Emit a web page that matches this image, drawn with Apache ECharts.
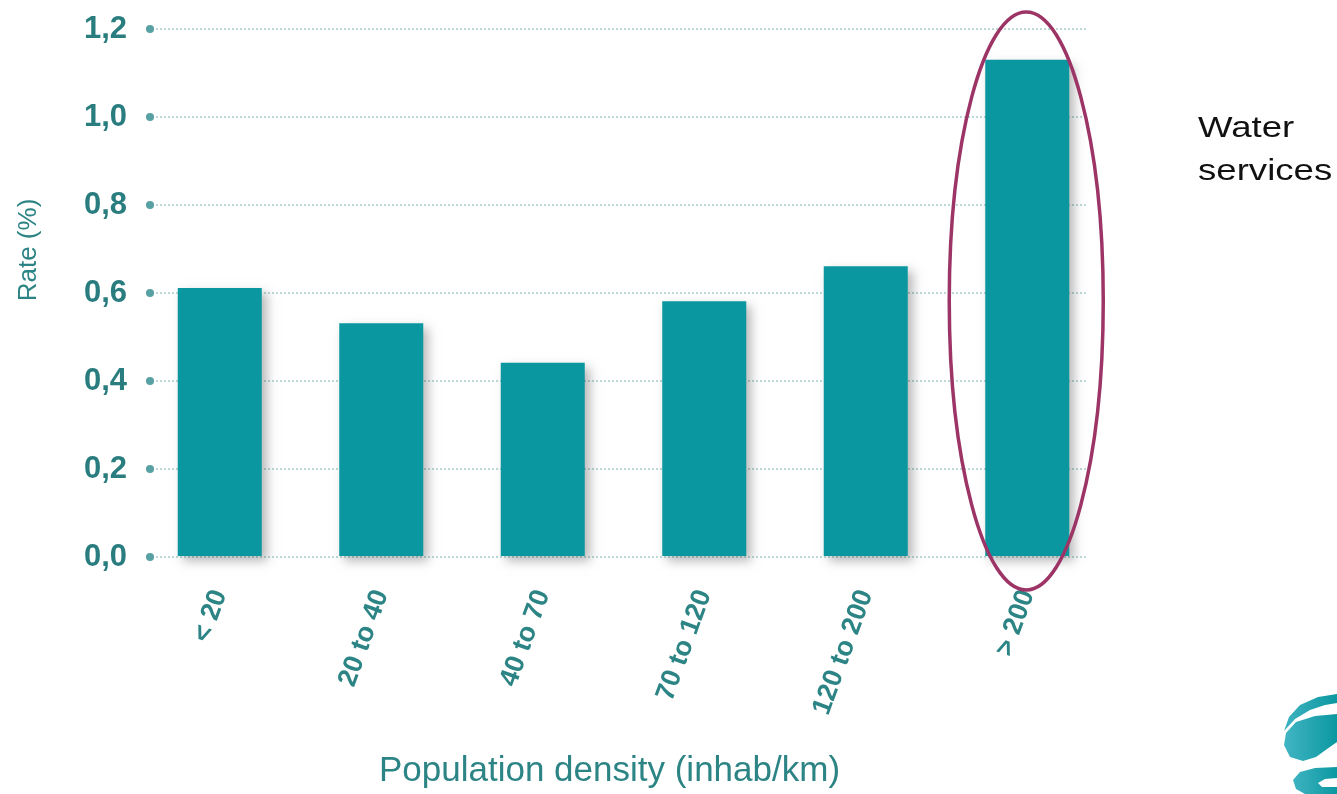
<!DOCTYPE html>
<html>
<head>
<meta charset="utf-8">
<script src="https://cdn.jsdelivr.net/npm/echarts@6/dist/echarts.min.js"></script>
<style>
html,body{margin:0;padding:0;background:#fff;}
#c{width:1337px;height:794px;}
</style>
</head>
<body>
<div id="c"></div>
<script>
// ---- data ----
const categories = ['< 20', '20 to 40', '40 to 70', '70 to 120', '120 to 200', '> 200'];
const rates = [0.61, 0.53, 0.44, 0.58, 0.66, 1.13];
const yTicks = [0, 0.2, 0.4, 0.6, 0.8, 1.0, 1.2];
const xTitle = 'Population density (inhab/km)';
const yTitle = 'Rate (%)';
const noteLines = ['Water', 'services'];

const teal = '#0a97a0';
const textTeal = '#2c8485';
const font = '"Liberation Sans", Arial, sans-serif';

const chart = echarts.init(document.getElementById('c'), null, {renderer: 'canvas'});

const option = {
  backgroundColor: '#ffffff',
  animation: false,
  grid: [
    {left: 139, right: 229, top: 29, bottom: 237},
    {left: 156, right: 249, top: 29, bottom: 237}
  ],
  xAxis: [
    {
      type: 'category', gridIndex: 0, data: categories,
      axisLine: {show: false}, axisTick: {show: false},
      axisLabel: {rotate: 70, margin: 35, color: textTeal, fontFamily: font, fontSize: 27, fontWeight: 'bold', interval: 0},
      name: xTitle, nameLocation: 'middle', nameGap: 198,
      nameTextStyle: {color: textTeal, fontFamily: font, fontSize: 35, padding: [0, 28, 0, 0]}
    },
    {type: 'value', gridIndex: 1, min: 0, max: 1, show: false}
  ],
  yAxis: [
    {type: 'value', gridIndex: 0, min: 0, max: 1.2, interval: 0.2, show: false},
    {
      type: 'value', gridIndex: 1, min: 0, max: 1.2, interval: 0.2,
      axisLine: {show: false}, axisTick: {show: false},
      axisLabel: {
        margin: 29, color: '#2a7d7f', fontFamily: font, fontSize: 31, fontWeight: 'bold',
        formatter: v => v.toFixed(1).replace('.', ',')
      },
      splitLine: {show: true, lineStyle: {color: '#bcd8d9', width: 2, type: [2, 2]}}
    }
  ],
  series: [
    {
      type: 'bar', xAxisIndex: 0, yAxisIndex: 0, data: rates, barWidth: 84,
      itemStyle: {color: teal, shadowBlur: 10, shadowColor: 'rgba(0,0,0,0.28)', shadowOffsetX: 5, shadowOffsetY: 5},
      z: 3
    },
    {
      type: 'scatter', xAxisIndex: 1, yAxisIndex: 1,
      data: yTicks.map(v => [0, v]), symbol: 'circle', symbolSize: 8, symbolOffset: [-6, 0],
      itemStyle: {color: '#2e8a8b'}, clip: false, silent: true
    }
  ]
};
chart.setOption(option);

const cx = chart.convertToPixel({xAxisIndex: 0}, categories[5]);

function grad(c0) {
  return {type: 'linear', x: 0, y: 0, x2: 1, y2: 0, colorStops: [{offset: 0, color: c0}, {offset: 1, color: '#0b98a0'}]};
}

chart.setOption({
  graphic: [
    {
      type: 'ellipse', z: 100,
      shape: {cx: cx - 1, cy: 301, rx: 77, ry: 289},
      style: {fill: 'none', stroke: '#9c3466', lineWidth: 3.5}
    },
    {
      type: 'text', x: 29, y: 250, rotation: Math.PI / 2,
      style: {text: yTitle, fill: textTeal, font: '26px ' + font, align: 'center', verticalAlign: 'middle'}
    },
    {
      type: 'text', x: 1198, y: 107, scaleX: 1.22,
      style: {text: noteLines.join('\n'), fill: '#111', font: '30px ' + font, lineHeight: 43, align: 'left', verticalAlign: 'top'}
    },
    {
      type: 'polygon',
      shape: {points: [[1337,694],[1318,697],[1300,705],[1289,717],[1284,731],[1295,719],[1310,710],[1325,705],[1337,703]]},
      style: {fill: grad('#3fb3c2')}
    },
    {
      type: 'polygon',
      shape: {points: [[1337,714],[1315,716],[1296,722],[1286,733],[1284,745],[1290,757],[1303,761],[1316,757],[1327,749],[1337,742]]},
      style: {fill: grad('#42b5c4')}
    },
    {
      type: 'polygon',
      shape: {points: [[1337,767],[1315,768],[1300,772],[1293,780],[1296,789],[1305,794],[1337,794]]},
      style: {fill: grad('#3fb3c2')}
    },
    {
      type: 'polygon',
      shape: {points: [[1337,778],[1325,779],[1318,783],[1322,787],[1337,787]]},
      style: {fill: '#ffffff'}
    }
  ]
});
</script>
</body>
</html>
